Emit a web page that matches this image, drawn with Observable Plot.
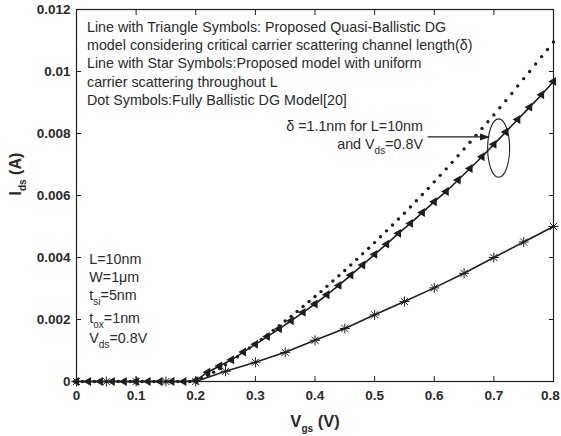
<!DOCTYPE html>
<html><head><meta charset="utf-8">
<script src="https://cdn.jsdelivr.net/npm/d3@7"></script>
<script src="https://cdn.jsdelivr.net/npm/@observablehq/plot@0.6"></script>
<style>
body{margin:0;background:#fff}
</style></head>
<body><div id="chart"></div>
<script>
// ---- data ----
const xTicks = [0, 0.1, 0.2, 0.3, 0.4, 0.5, 0.6, 0.7, 0.8];
const yTicks = [0, 0.002, 0.004, 0.006, 0.008, 0.01, 0.012];

// quasi-ballistic DG model (triangles)
const triVgs = [0,0.02,0.04,0.06,0.08,0.1,0.12,0.14,0.16,0.18,0.2,0.22,0.24,0.26,0.28,0.3,0.32,0.34,0.36,0.38,0.4,0.42,0.44,0.46,0.48,0.5,0.52,0.54,0.56,0.58,0.6,0.62,0.64,0.66,0.68,0.7,0.72,0.74,0.76,0.78,0.8];
const triIds = [0,0,0,0,0,0,0,0,0,0,0.00003,0.0003,0.0005,0.0007,0.00095,0.0012,0.00145,0.0017,0.00196,0.00223,0.0025,0.0028,0.0031,0.00343,0.00376,0.0041,0.00443,0.00478,0.0051,0.00545,0.0058,0.00613,0.0065,0.00687,0.00725,0.00765,0.00805,0.00845,0.00885,0.00925,0.00968];

// fully ballistic DG model (dots)
const dotVgs = [0,0.01,0.02,0.03,0.04,0.05,0.06,0.07,0.08,0.09,0.1,0.11,0.12,0.13,0.14,0.15,0.16,0.17,0.18,0.19,0.2,0.21,0.22,0.23,0.24,0.25,0.26,0.27,0.28,0.29,0.3,0.31,0.32,0.33,0.34,0.35,0.36,0.37,0.38,0.39,0.4,0.41,0.42,0.43,0.44,0.45,0.46,0.47,0.48,0.49,0.5,0.51,0.52,0.53,0.54,0.55,0.56,0.57,0.58,0.59,0.6,0.61,0.62,0.63,0.64,0.65,0.66,0.67,0.68,0.69,0.7,0.71,0.72,0.73,0.74,0.75,0.76,0.77,0.78,0.79,0.8];
const dotIds = [0,0,0,0,0,0,0,0,0,0,0,0,0,0,0,0,0,0,0,0,0.00002,0.0001,0.0002,0.0003,0.00042,0.00054,0.00067,0.0008,0.00094,0.00108,0.00122,0.00136,0.0015,0.00165,0.0018,0.00195,0.0021,0.00226,0.00242,0.00258,0.00274,0.0029,0.00307,0.00324,0.00341,0.00358,0.00376,0.00394,0.00412,0.0043,0.00448,0.00467,0.00486,0.00505,0.00524,0.00543,0.00563,0.00583,0.00603,0.00623,0.00644,0.00665,0.00686,0.00707,0.00728,0.0075,0.00772,0.00794,0.00816,0.00838,0.0086,0.00883,0.00906,0.00929,0.00953,0.00977,0.01,0.01024,0.01048,0.01071,0.01095];

// uniform scattering model (stars)
const starVgs = [0,0.05,0.1,0.15,0.2,0.25,0.3,0.35,0.4,0.45,0.5,0.55,0.6,0.65,0.7,0.75,0.8];
const starIds = [0,0,0,0,0,0.00033,0.00062,0.00094,0.00133,0.00171,0.00215,0.00258,0.00302,0.00349,0.004,0.0045,0.005];

// annotation texts
const legendLines = [
  "Line with Triangle Symbols: Proposed Quasi-Ballistic DG",
  "model considering critical carrier scattering channel length(\u03b4)",
  "Line with Star Symbols:Proposed model with uniform",
  "carrier scattering throughout L",
  "Dot Symbols:Fully Ballistic DG Model[20]"
];
const legendY = [0.01143, 0.01084, 0.01025, 0.00966, 0.00906];
const paramLines = ["L=10nm", "W=1\u03bcm", "t_{si}=5nm", "t_{ox}=1nm", "V_{ds}=0.8V"];
const paramY = [0.00395, 0.00336, 0.00277, 0.00205, 0.0014];
const deltaLines = ["\u03b4 =1.1nm for L=10nm", "and V_{ds}=0.8V"];
const deltaY = [0.00823, 0.00765];
const xLabel = "V_{gs} (V)";
const yLabel = "I_{ds} (A)";

// ---- tables ----
const tri = triVgs.map((v, i) => ({v, i: triIds[i]}));
const dots = dotVgs.map((v, i) => ({v, i: dotIds[i]}));
const stars = starVgs.map((v, i) => ({v, i: starIds[i]}));
const legend = legendLines.map((t, k) => ({t, y: legendY[k]}));
const params = paramLines.map((t, k) => ({t, y: paramY[k]}));
const delta = deltaLines.map((t, k) => ({t, y: deltaY[k]}));
const xLast = xTicks[xTicks.length - 1];
const xInner = xTicks.slice(0, -1);

// custom symbols
const starSymbol = {draw(ctx, size) {
  const r = Math.sqrt(size / Math.PI), d = r * Math.SQRT1_2;
  ctx.moveTo(-r, 0); ctx.lineTo(r, 0);
  ctx.moveTo(0, -r); ctx.lineTo(0, r);
  ctx.moveTo(-d, -d); ctx.lineTo(d, d);
  ctx.moveTo(-d, d); ctx.lineTo(d, -d);
}};
const ellipseSymbol = {draw(ctx, size) {
  const rx = Math.sqrt(size / Math.PI), ry = rx * 2.65, k = 0.5523;
  ctx.moveTo(rx, 0);
  ctx.bezierCurveTo(rx, k * ry, k * rx, ry, 0, ry);
  ctx.bezierCurveTo(-k * rx, ry, -rx, k * ry, -rx, 0);
  ctx.bezierCurveTo(-rx, -k * ry, -k * rx, -ry, 0, -ry);
  ctx.bezierCurveTo(k * rx, -ry, rx, -k * ry, rx, 0);
  ctx.closePath();
}};
const headSymbol = {draw(ctx, size) {
  const L = 10, w = 3.5;
  ctx.moveTo(0, 0); ctx.lineTo(-L, -w); ctx.lineTo(-L, w); ctx.closePath();
}};

const ink = "#1e1e1e";
const txtCol = "#2a2a2a";
const fsNote = 14.3;

const chart = Plot.plot({
  width: 561, height: 436,
  marginLeft: 76, marginRight: 8, marginTop: 9, marginBottom: 55,
  style: {fontFamily: "'Liberation Sans', Arial, Helvetica, sans-serif", background: "#fff", color: txtCol},
  x: {domain: [0, 0.8]},
  y: {domain: [0, 0.012]},
  marks: [
    Plot.axisX({ticks: xInner, tickSize: -5, tickPadding: 14, tickFormat: d => String(d), label: null, fontSize: 13.5, fontWeight: "bold", stroke: ink}),
    Plot.axisX({ticks: [xLast], tickSize: 0, tickPadding: 9, dx: -3, tickFormat: d => String(d), label: null, fontSize: 13.5, fontWeight: "bold", stroke: "none"}),
    Plot.axisX({anchor: "top", ticks: xTicks, tickSize: -5, tickFormat: () => "", label: null, stroke: ink}),
    Plot.axisY({ticks: yTicks, tickSize: -5, tickPadding: 11, tickFormat: d => String(d), label: null, fontSize: 13.5, fontWeight: "bold", stroke: ink}),
    Plot.axisY({anchor: "right", ticks: yTicks, tickSize: -5, tickFormat: () => "", label: null, stroke: ink}),
    Plot.frame({stroke: ink, strokeWidth: 1.2}),
    // series
    Plot.line(tri, {x: "v", y: "i", stroke: ink, strokeWidth: 1.6}),
    Plot.line(stars, {x: "v", y: "i", stroke: ink, strokeWidth: 1.6}),
    Plot.dot(dots, {x: "v", y: "i", r: 1.7, fill: ink, stroke: null}),
    Plot.dot(tri, {x: "v", y: "i", symbol: "triangle", rotate: -90, r: 3.3, fill: ink, stroke: null}),
    Plot.dot(stars, {x: "v", y: "i", symbol: starSymbol, r: 5, stroke: ink, strokeWidth: 1, fill: null}),
    // annotations
    Plot.text(legend, {x: () => 0.0176, y: "y", text: "t", textAnchor: "start", lineAnchor: "middle", fontSize: fsNote, fill: txtCol}),
    Plot.text(params, {x: () => 0.0215, y: "y", text: "t", textAnchor: "start", lineAnchor: "middle", fontSize: fsNote, fill: txtCol}),
    Plot.text(delta, {x: () => 0.581, y: "y", text: "t", textAnchor: "end", lineAnchor: "middle", fontSize: fsNote, fill: txtCol}),
    Plot.link([{x1: 0.589, x2: 0.686, y: 0.00789}], {x1: "x1", x2: "x2", y1: "y", y2: "y", stroke: ink, strokeWidth: 1.1}),
    Plot.dot([{x: 0.6935, y: 0.00789}], {x: "x", y: "y", symbol: headSymbol, r: 5, fill: ink, stroke: null}),
    Plot.dot([{x: 0.708, y: 0.00753}], {x: "x", y: "y", symbol: ellipseSymbol, r: 11, fill: "none", stroke: ink, strokeWidth: 1.1}),
    // axis titles
    Plot.text([xLabel], {frameAnchor: "bottom", dy: 40, text: d => d, fontSize: 16.5, fontWeight: "bold", lineAnchor: "middle", fill: txtCol}),
    Plot.text([yLabel], {frameAnchor: "left", dx: -61, rotate: -90, text: d => d, fontSize: 16, fontWeight: "bold", lineAnchor: "middle", fill: txtCol})
  ]
});

// subscripts: turn "_{xx}" into lowered tspans
function subscripts(svg) {
  svg.querySelectorAll("text").forEach(t => {
    const s = t.textContent;
    if (!s.includes("_{")) return;
    const fs = parseFloat(t.getAttribute("font-size") || getComputedStyle(t).fontSize) || 12.5;
    const shift = Math.round(fs * 0.38);
    t.textContent = "";
    const parts = s.split(/(_\{[^}]*\})/).filter(p => p.length);
    let lowered = false;
    parts.forEach(p => {
      const ts = document.createElementNS("http://www.w3.org/2000/svg", "tspan");
      if (p.startsWith("_{")) {
        ts.textContent = p.slice(2, -1);
        ts.setAttribute("font-size", (fs * 0.8).toFixed(1));
        ts.setAttribute("dy", shift);
        lowered = true;
      } else {
        ts.textContent = p;
        if (lowered) { ts.setAttribute("dy", -shift); lowered = false; }
      }
      t.appendChild(ts);
    });
  });
}
subscripts(chart);
document.getElementById("chart").appendChild(chart);
</script>
</body></html>
